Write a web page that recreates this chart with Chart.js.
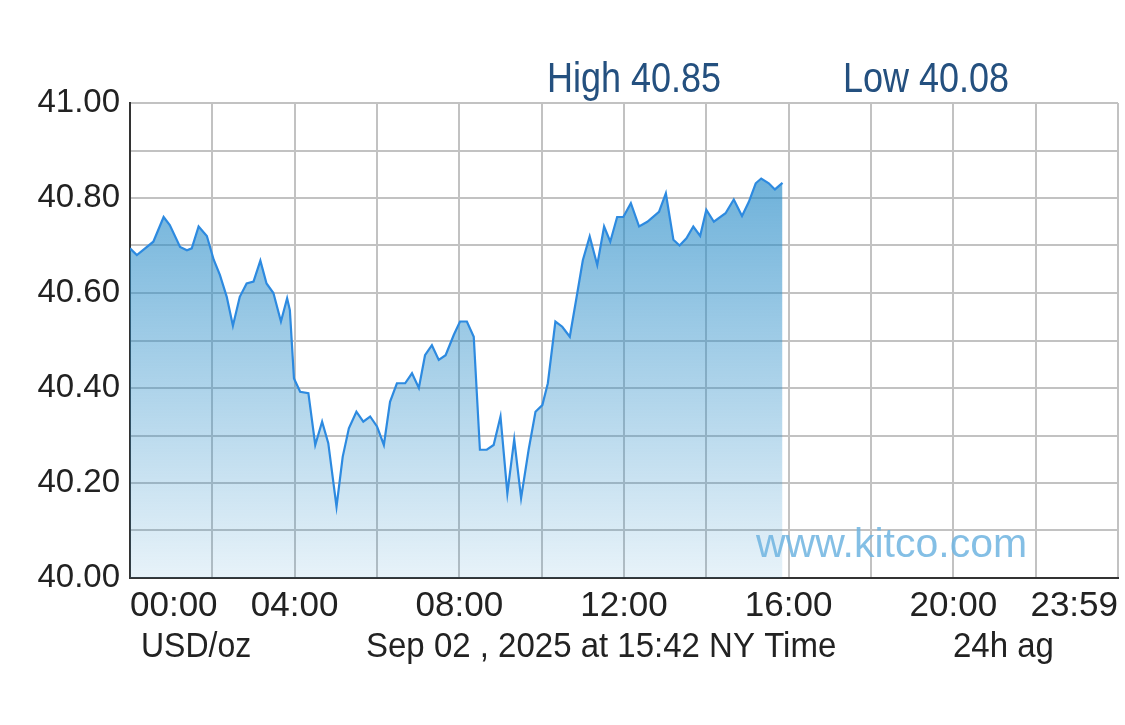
<!DOCTYPE html>
<html>
<head>
<meta charset="utf-8">
<title>Silver 24h</title>
<script src="https://cdn.jsdelivr.net/npm/chart.js@4.4.1/dist/chart.umd.min.js"></script>
<style>
  html, body { margin: 0; padding: 0; background: #fff; }
  #wrap { width: 1125px; height: 725px; }
</style>
</head>
<body>
<div id="wrap"><canvas id="silver_chart" width="1125" height="725"></canvas></div>
<script>
// NY time of each quote
const times = [
  '00:00','00:10','00:34','00:49','00:58','01:13','01:23','01:30','01:40','01:52',
  '02:02','02:11','02:21','02:30','02:40','02:50','03:00','03:10','03:19','03:29',
  '03:40','03:49','03:53','03:59','04:08','04:20','04:30','04:40','04:49','05:01',
  '05:10','05:19','05:30','05:40','05:50','06:00','06:10','06:19','06:29','06:41',
  '06:51','07:01','07:10','07:20','07:30','07:40','07:52','08:01','08:11','08:21',
  '08:30','08:40','08:50','09:00','09:10','09:20','09:30','09:41','09:51','10:01',
  '10:09','10:20','10:30','10:41','10:51','11:00','11:10','11:21','11:31','11:40',
  '11:50','11:59','12:10','12:22','12:34','12:51','13:01','13:12','13:21','13:31',
  '13:41','13:51','14:00','14:11','14:28','14:40','14:52','15:02','15:12','15:20',
  '15:31','15:40','15:51'
];
// bid, USD/oz
const prices = [
  40.694,40.68,40.708,40.76,40.743,40.697,40.69,40.694,40.74,40.72,
  40.67,40.638,40.592,40.531,40.592,40.62,40.624,40.668,40.62,40.60,
  40.54,40.589,40.564,40.42,40.392,40.389,40.28,40.329,40.284,40.15,
  40.255,40.315,40.35,40.329,40.34,40.319,40.28,40.371,40.41,40.41,
  40.431,40.40,40.469,40.49,40.459,40.469,40.512,40.54,40.54,40.508,
  40.27,40.27,40.28,40.34,40.178,40.292,40.168,40.27,40.35,40.364,
  40.41,40.54,40.529,40.508,40.592,40.669,40.719,40.659,40.74,40.708,
  40.76,40.76,40.789,40.74,40.75,40.771,40.81,40.712,40.70,40.715,
  40.74,40.72,40.775,40.75,40.768,40.797,40.762,40.792,40.831,40.841,
  40.831,40.818,40.832
];
const xTickLabels = ['00:00','04:00','08:00','12:00','16:00','20:00','23:59'];
const yTickLabels = ['40.00','40.20','40.40','40.60','40.80','41.00'];
const highText = 'High 40.85';
const lowText = 'Low 40.08';
const footTexts = ['USD/oz', 'Sep 02 , 2025 at 15:42 NY Time', '24h ag'];

function toMin(t) {
  let p = t.split(':');
  return parseInt(p[0]) * 60 + parseInt(p[1]);
}

let points = [];
for (let i = 0; i < times.length; i++) {
  points.push({ x: toMin(times[i]), y: prices[i] });
}

// stretched text like the original bitmap font
function drawText(ctx, txt, x, y, size, sy, color) {
  ctx.save();
  ctx.font = size + 'px "Liberation Sans", Arial, sans-serif';
  ctx.fillStyle = color;
  ctx.textAlign = 'left';
  ctx.textBaseline = 'alphabetic';
  ctx.scale(1, sy);
  ctx.fillText(txt, x, y / sy);
  ctx.restore();
}

const textPlugin = {
  id: 'kitcoText',
  afterDatasetsDraw(chart) {
    let ctx = chart.ctx;
    // watermark
    ctx.save();
    ctx.font = '41px "Liberation Sans", Arial, sans-serif';
    ctx.fillStyle = 'rgba(110,180,225,0.85)';
    ctx.textBaseline = 'alphabetic';
    ctx.fillText('www.kitco.com', 756, 557);
    ctx.restore();
  },
  afterDraw(chart) {
    let ctx = chart.ctx;
    drawText(ctx, highText, 547, 92, 36, 1.16, '#24507f');
    drawText(ctx, lowText, 843, 92, 36, 1.16, '#24507f');
    drawText(ctx, footTexts[0], 141, 657, 32, 1.08, '#222');
    drawText(ctx, footTexts[1], 366, 657, 33, 1.06, '#222');
    drawText(ctx, footTexts[2], 953, 657, 33, 1.06, '#222');
  }
};

let ctxEl = document.getElementById('silver_chart');
let silverChart = new Chart(ctxEl, {
  type: 'line',
  data: {
    datasets: [{
      data: points,
      borderColor: '#2d8ae0',
      borderWidth: 2.2,
      pointRadius: 0,
      tension: 0,
      fill: 'start',
      backgroundColor: function (c) {
        let area = c.chart.chartArea;
        if (!area) return 'rgba(40,140,200,0.5)';
        let g = c.chart.ctx.createLinearGradient(0, area.top, 0, area.bottom);
        g.addColorStop(0, 'rgba(40,140,200,0.78)');
        g.addColorStop(1, 'rgba(40,140,200,0.11)');
        return g;
      }
    }]
  },
  options: {
    responsive: false,
    animation: false,
    layout: { padding: { left: 0, right: 7, top: 103, bottom: 0 } },
    plugins: {
      legend: { display: false },
      tooltip: { enabled: false }
    },
    scales: {
      x: {
        type: 'linear',
        min: 0,
        max: 1440,
        afterFit: function (s) { s.height = 147; },
        afterBuildTicks: function (s) {
          let t = [];
          for (let v = 0; v <= 1440; v += 120) t.push({ value: v });
          s.ticks = t;
        },
        grid: { color: '#c2c2c2', lineWidth: 2, drawTicks: false },
        border: { color: '#333', width: 2 },
        ticks: {
          autoSkip: false,
          maxRotation: 0,
          align: 'inner',
          padding: 7,
          color: '#222',
          font: { family: '"Liberation Sans", Arial, sans-serif', size: 35 },
          callback: function (v) {
            if (v % 240 !== 0) return '';
            return xTickLabels[v / 240];
          }
        }
      },
      y: {
        min: 40,
        max: 41,
        afterFit: function (s) { s.width = 130; },
        afterBuildTicks: function (s) {
          let t = [];
          for (let i = 0; i <= 10; i++) t.push({ value: 40 + i / 10 });
          s.ticks = t;
        },
        grid: { color: '#c2c2c2', lineWidth: 2, drawTicks: false },
        border: { color: '#333', width: 2 },
        ticks: {
          padding: 10,
          color: '#222',
          font: { family: '"Liberation Sans", Arial, sans-serif', size: 33 },
          callback: function (v, i) {
            if (i % 2 !== 0) return '';
            return yTickLabels[i / 2];
          }
        }
      }
    }
  },
  plugins: [textPlugin]
});
</script>
</body>
</html>
